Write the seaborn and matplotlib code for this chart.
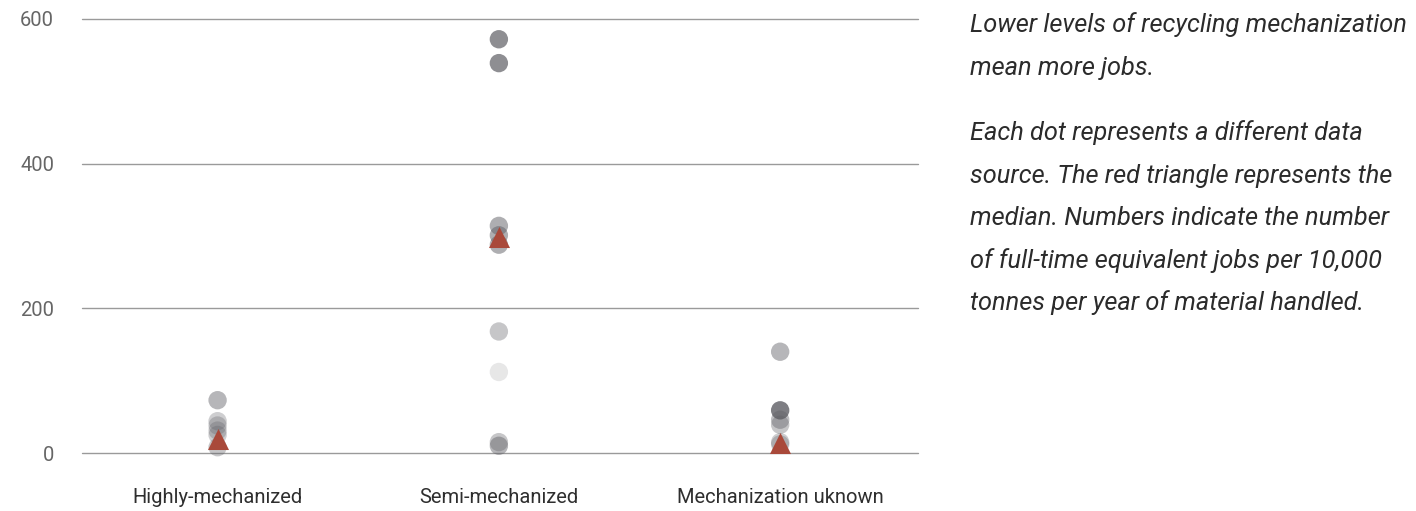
import matplotlib
matplotlib.use("Agg")
import matplotlib.pyplot as plt
import seaborn as sns
import pandas as pd
from matplotlib.colors import to_rgba

categories = ["Highly-mechanized", "Semi-mechanized", "Mechanization uknown"]

highly_vals = [73, 44, 38, 31, 25, 8]
highly_alpha = [0.45, 0.3, 0.3, 0.3, 0.3, 0.35]
semi_vals = [572, 539, 314, 301, 288, 168, 112, 15, 10]
semi_alpha = [0.7, 0.7, 0.5, 0.5, 0.5, 0.35, 0.15, 0.35, 0.45]
unknown_vals = [140, 59, 46, 39, 15, 12]
unknown_alpha = [0.45, 0.8, 0.4, 0.35, 0.3, 0.3]

medians = [20, 299, 14]

y_ticks = [0, 200, 400, 600]
y_tick_labels = ["0", "200", "400", "600"]

note_lines_1 = ["Lower levels of recycling mechanization", "mean more jobs."]
note_lines_2 = ["Each dot represents a different data",
                "source. The red triangle represents the",
                "median. Numbers indicate the number",
                "of full-time equivalent jobs per 10,000",
                "tonnes per year of material handled."]

rows = []
for cat, vals, alphas in zip(categories,
                             [highly_vals, semi_vals, unknown_vals],
                             [highly_alpha, semi_alpha, unknown_alpha]):
    for v, a in zip(vals, alphas):
        rows.append({"cat": cat, "val": v, "shade": a})
df = pd.DataFrame(rows)
med_df = pd.DataFrame({"cat": categories, "val": medians})

sns.set_theme(style="white")
plt.rcParams["font.family"] = ["Roboto", "DejaVu Sans"]

fig = plt.figure(figsize=(14.16, 5.11), dpi=100)
ax = fig.add_axes([82 / 1416, 1 - 453 / 511, (918 - 82) / 1416, (453 - 19) / 511])

base = "#5e5e64"
palette = {a: to_rgba(base, a) for a in sorted(df["shade"].unique())}

sns.scatterplot(data=df, x="cat", y="val", hue="shade", palette=palette,
                s=175, linewidth=0, legend=False, ax=ax, clip_on=False, zorder=3)
sns.scatterplot(data=med_df, x="cat", y="val", marker="^", color="#a9493a",
                s=230, linewidth=0, legend=False, ax=ax, clip_on=False, zorder=4)

ax.set_xlim(-0.482, 2.49)
ax.set_ylim(0, 600)
ax.set_yticks(y_ticks)
ax.set_yticklabels(y_tick_labels)
ax.set_xlabel("")
ax.set_ylabel("")
for s in ax.spines.values():
    s.set_visible(False)
ax.grid(False)
for yv in y_ticks:
    ax.axhline(yv, color="#9a9a9a", linewidth=1.0, zorder=1, clip_on=False)
ax.tick_params(axis="y", length=0, pad=20, labelsize=14.5, labelcolor="#666666")
ax.tick_params(axis="x", length=0, pad=25, labelsize=14.5, labelcolor="#2e2e2e")

x0 = 970 / 1416
ys1 = [25, 68]
ys2 = [133, 176, 218, 261, 303]
for line, yp in zip(note_lines_1 + note_lines_2, ys1 + ys2):
    fig.text(x0, 1 - yp / 511, line, ha="left", va="center",
             fontsize=18.3, style="italic", color="#2b2b2b")

fig.savefig("out.png", dpi=100)
